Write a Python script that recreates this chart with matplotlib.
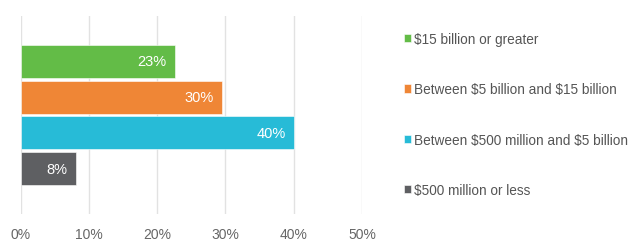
import matplotlib.pyplot as plt

categories = ['$15 billion or greater', 'Between $5 billion and $15 billion',
              'Between $500 million and $5 billion', '$500 million or less']
values = [22.6, 29.5, 40.0, 8.1]
colors = ['#63BC47', '#EF8636', '#27BBD7', '#5E5F62']
xticks = [0, 10, 20, 30, 40, 50]

plt.rcParams['font.family'] = ['Liberation Sans', 'DejaVu Sans']
plt.rcParams['text.parse_math'] = False

fig = plt.figure(figsize=(6.4, 2.51), dpi=100)
ax = fig.add_axes([0.0323, 0.1434, 0.5333, 0.789])

ypos = list(range(len(values)))
bars = ax.barh(ypos, values, height=0.92, color=colors, zorder=2,
               edgecolor='white', linewidth=0.4)
for i, b in enumerate(bars):
    b.set_label(categories[i])
    ax.text(values[i] - 1.2, ypos[i], f'{values[i]:.0f}%', color='white',
            ha='right', va='center', fontsize=10.5, zorder=3)

center = 1.5
ax.set_ylim(center + 2.77, center - 2.77)
ax.set_xlim(0, 50)
ax.set_xticks(xticks)
ax.set_xticklabels([f'{t}%' for t in xticks])
ax.set_yticks([])
ax.tick_params(axis='x', length=0, pad=9, labelsize=10, labelcolor='#666666')
ax.grid(axis='x', color='#e2e2e2', linewidth=1, zorder=0)
for s in ax.spines.values():
    s.set_visible(False)

ax.legend(handles=list(bars), loc='upper left', bbox_to_anchor=(0.622, 0.89),
          bbox_transform=fig.transFigure, frameon=False, fontsize=9.8,
          handlelength=0.55, handleheight=0.55, handletextpad=0.25,
          labelspacing=2.67, labelcolor='#555555', borderaxespad=0)

fig.savefig('out.png', dpi=100)
